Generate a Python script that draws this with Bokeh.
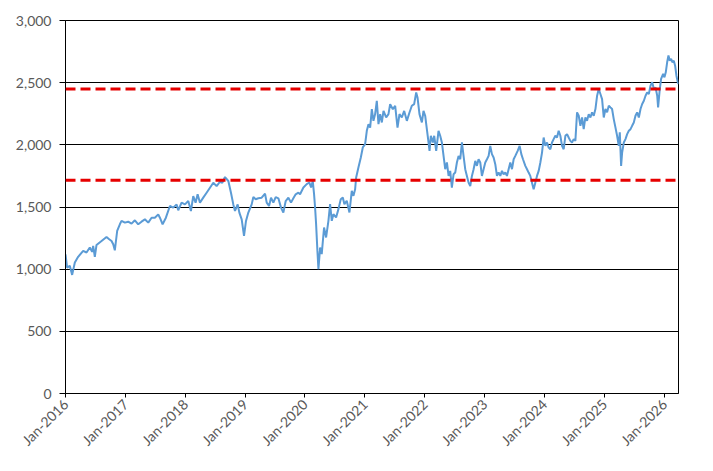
import numpy as np
import pandas as pd
from bokeh.plotting import figure
from bokeh.models import Span, FixedTicker, DatetimeTickFormatter, NumeralTickFormatter, Range1d
from bokeh.embed import file_html
from bokeh.resources import INLINE

# Time position of each reading, in years since 1 Jan 2016
year_frac = [
    0.000, 0.027, 0.072, 0.111, 0.156, 0.211, 0.295, 0.351, 0.406, 0.445, 0.462, 0.490,
    0.518, 0.602, 0.685, 0.730, 0.769, 0.797, 0.824, 0.863, 0.908, 0.936, 0.992, 1.047,
    1.103, 1.159, 1.215, 1.270, 1.326, 1.382, 1.438, 1.493, 1.549, 1.577, 1.622, 1.677,
    1.744, 1.800, 1.856, 1.883, 1.939, 1.995,
    2.051, 2.095, 2.134, 2.173, 2.207, 2.246, 2.301, 2.357, 2.413, 2.469, 2.524, 2.580,
    2.619, 2.664, 2.720, 2.764, 2.803, 2.831, 2.876, 2.904, 2.943, 2.982, 3.015, 3.054,
    3.110, 3.138, 3.177, 3.221, 3.277, 3.333, 3.361, 3.400, 3.433, 3.472, 3.511, 3.556,
    3.600, 3.639, 3.678, 3.723, 3.767, 3.806, 3.845, 3.890,
    3.918, 3.974, 4.029, 4.074, 4.102, 4.130, 4.152, 4.169, 4.186, 4.208, 4.225, 4.253,
    4.280, 4.319, 4.353, 4.392, 4.420, 4.448, 4.475, 4.520, 4.559, 4.598, 4.632, 4.659,
    4.698, 4.743, 4.782, 4.810, 4.838, 4.855, 4.893, 4.933, 4.966, 5.005, 5.033, 5.061,
    5.089, 5.117, 5.144, 5.172, 5.200, 5.228, 5.256, 5.284, 5.312, 5.356, 5.395, 5.423,
    5.468, 5.507, 5.546, 5.579, 5.618, 5.657, 5.702, 5.746, 5.785, 5.824, 5.858, 5.880,
    5.913,
    5.953, 5.980, 6.008, 6.036, 6.064, 6.081, 6.103, 6.137, 6.159, 6.192, 6.231, 6.259,
    6.287, 6.315, 6.343, 6.371, 6.399, 6.426, 6.454, 6.482, 6.510, 6.538, 6.566, 6.594,
    6.622, 6.649, 6.677, 6.705, 6.733, 6.761, 6.789, 6.817, 6.845, 6.872, 6.900, 6.928,
    6.956, 6.984, 7.012, 7.040, 7.068, 7.095, 7.123, 7.151, 7.179, 7.207, 7.235, 7.263,
    7.291, 7.318, 7.346, 7.374, 7.402, 7.430, 7.458, 7.486, 7.514, 7.553, 7.586, 7.614,
    7.642, 7.681, 7.709, 7.736, 7.764, 7.792, 7.820, 7.848, 7.876, 7.904, 7.932, 7.960,
    7.987, 8.015, 8.043, 8.071,
    8.099, 8.127, 8.154, 8.182, 8.210, 8.238, 8.266, 8.294, 8.322, 8.350, 8.378, 8.405,
    8.433, 8.461, 8.489, 8.517, 8.545, 8.573, 8.601, 8.629, 8.656, 8.684, 8.712, 8.740,
    8.768, 8.796, 8.824, 8.852, 8.880, 8.907, 8.935, 8.963, 8.991, 9.019, 9.047, 9.075,
    9.103, 9.130, 9.158, 9.186, 9.214, 9.242, 9.259, 9.281, 9.298, 9.326, 9.354, 9.382,
    9.410, 9.438, 9.465, 9.493, 9.521, 9.549, 9.577, 9.605, 9.633, 9.661, 9.689, 9.716,
    9.744, 9.772, 9.800, 9.828, 9.856, 9.884, 9.899, 9.927, 9.949, 9.983, 10.005, 10.027,
    10.050, 10.072, 10.094, 10.116, 10.139, 10.161, 10.183, 10.205, 10.228, 10.244,
]

index_values = [
    1120, 1013, 1027, 954, 1053, 1099, 1147, 1134, 1174, 1139, 1187, 1099,
    1195, 1227, 1259, 1241, 1227, 1200, 1152, 1307, 1361, 1388, 1374, 1382,
    1366, 1393, 1361, 1382, 1401, 1374, 1414, 1414, 1441, 1414, 1361, 1414,
    1508, 1495, 1521, 1473, 1535, 1521,
    1548, 1468, 1588, 1535, 1602, 1535, 1575, 1615, 1655, 1695, 1668, 1703,
    1695, 1741, 1709, 1615, 1521, 1468, 1521, 1455, 1401, 1267, 1388, 1455,
    1521, 1580, 1562, 1570, 1575, 1607, 1535, 1508, 1575, 1535, 1580, 1570,
    1495, 1455, 1548, 1575, 1535, 1570, 1602, 1615,
    1603, 1657, 1684, 1697, 1657, 1710, 1603, 1496, 1362, 1147, 1000, 1174,
    1121, 1335, 1255, 1389, 1523, 1389, 1442, 1416, 1483, 1563, 1576, 1523,
    1550, 1456, 1630, 1590, 1643, 1737, 1818, 1898, 1979, 2005, 2113, 2166,
    2139, 2287, 2193, 2247, 2354, 2166, 2247, 2180, 2273, 2220, 2247, 2327,
    2287, 2314, 2139, 2247, 2220, 2273, 2193, 2260, 2314, 2327, 2421, 2381,
    2247,
    2180, 2274, 2234, 2126, 2019, 1952, 2073, 2019, 2073, 1952, 2113, 2073,
    2019, 1911, 1804, 1858, 1750, 1790, 1656, 1763, 1777, 1858, 1911, 1884,
    2019, 1911, 1804, 1750, 1696, 1669, 1750, 1804, 1871, 1831, 1884, 1858,
    1750, 1804, 1858, 1884, 1911, 1992, 1925, 1898, 1844, 1750, 1777, 1750,
    1790, 1763, 1777, 1750, 1804, 1858, 1804, 1884, 1911, 1952, 1992, 1925,
    1884, 1831, 1804, 1777, 1750, 1696, 1643, 1696, 1750, 1790, 1858, 1938,
    2059, 1992, 2019, 1978,
    1965, 2019, 2046, 2073, 2059, 2113, 2073, 1992, 1965, 2073, 2086, 2059,
    2032, 2019, 2046, 2032, 2261, 2234, 2153, 2220, 2126, 2220, 2194, 2247,
    2220, 2261, 2234, 2288, 2395, 2449, 2409, 2368, 2220, 2288, 2261, 2315,
    2301, 2288, 2207, 2140, 2073, 1992, 2100, 1831, 1938, 2019, 2046, 2086,
    2113, 2126, 2153, 2180, 2234, 2261, 2220, 2288, 2328, 2355, 2395, 2422,
    2409, 2476, 2503, 2449, 2462, 2395, 2301, 2449, 2530, 2570, 2543, 2583,
    2664, 2718, 2677, 2691, 2664, 2677, 2637, 2556, 2503, 2489,
]

upper_level = 2450
lower_level = 1715

y_ticks = [0, 500, 1000, 1500, 2000, 2500, 3000]
x_tick_years = [2016, 2017, 2018, 2019, 2020, 2021, 2022, 2023, 2024, 2025, 2026]
x_start = "2016-01-01"
x_end = "2026-03-29"
y_min, y_max = 0, 3000

origin = pd.Timestamp(x_start)
dates = origin + pd.to_timedelta(np.array(year_frac) * 365.25, unit="D")

p = figure(
    width=705, height=463,
    x_axis_type="datetime",
    output_backend="svg",
    toolbar_location=None,
    x_range=Range1d(pd.Timestamp(x_start), pd.Timestamp(x_end)),
    y_range=Range1d(y_min, y_max),
    min_border_left=65, min_border_right=27, min_border_top=20, min_border_bottom=70,
)
p.background_fill_color = "white"
p.border_fill_color = "white"
p.outline_line_color = "black"
p.outline_line_width = 1

p.line(dates, index_values, line_color="#5B9BD5", line_width=2)

for lvl in (upper_level, lower_level):
    p.add_layout(Span(location=lvl, dimension="width", line_color="#E60000",
                      line_width=3, line_dash="10 5"))

x_ticks_ms = [pd.Timestamp(f"{y}-01-01").value / 1e6 for y in x_tick_years]
p.xaxis.ticker = FixedTicker(ticks=x_ticks_ms)
p.xaxis.formatter = DatetimeTickFormatter(
    years="%b-%Y", months="%b-%Y", days="%b-%Y", hours="%b-%Y",
    minutes="%b-%Y", seconds="%b-%Y", milliseconds="%b-%Y", microseconds="%b-%Y",
    minsec="%b-%Y", hourmin="%b-%Y")
p.xaxis.major_label_orientation = np.pi / 4
p.yaxis.ticker = FixedTicker(ticks=y_ticks)
p.yaxis.formatter = NumeralTickFormatter(format="0,0")

p.xgrid.visible = False
p.ygrid.ticker = FixedTicker(ticks=y_ticks)
p.ygrid.grid_line_color = "black"
p.ygrid.grid_line_width = 1

for ax in (p.xaxis, p.yaxis):
    ax.axis_line_color = "black"
    ax.axis_line_width = 1
    ax.major_tick_line_color = "black"
    ax.major_tick_in = 0
    ax.minor_tick_line_color = None
    ax.major_label_text_font = "Lato"
    ax.major_label_text_font_size = "14px"
    ax.major_label_text_color = "#595959"

p.yaxis.major_tick_out = 6
p.yaxis.major_label_standoff = 8
p.xaxis.major_tick_out = 4
p.xaxis.major_label_standoff = 4

open("out.html", "w").write(file_html(p, INLINE))
